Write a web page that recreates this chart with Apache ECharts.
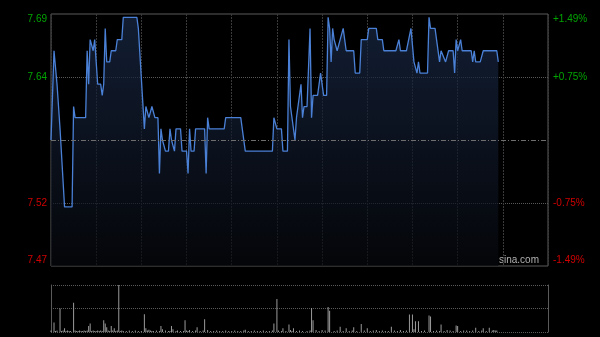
<!DOCTYPE html>
<html>
<head>
<meta charset="utf-8">
<script src="https://cdn.jsdelivr.net/npm/echarts@6/dist/echarts.min.js"></script>
<style>
html,body{margin:0;padding:0;background:#000;}
#chart{width:600px;height:337px;}
</style>
</head>
<body>
<div id="chart"></div>
<script>
// ---- data ----
const prevClose = 7.58;
// minute of the trading day (0..330, HK session) at each turn of the price line
const minutes = [0,2,4,5,6,7,9,14,15,16,23,24,25,26,27,28,29,30,31,33,34,35,36,37,39,40,43,44,47,48,57,58,59,62,63,64,65,66,67,68,69,71,72,73,74,75,76,78,79,80,82,83,86,87,90,91,92,93,95,96,102,103,104,105,115,116,126,127,128,129,147,148,149,150,153,154,157,158,159,160,162,163,164,166,167,168,170,172,173,174,177,179,180,181,183,184,185,186,187,188,189,190,191,192,193,194,195,196,201,202,205,206,210,211,216,217,220,221,229,231,232,236,239,240,241,242,243,244,245,250,251,252,255,256,257,258,259,260,262,263,264,267,268,269,270,272,273,279,280,281,282,285,287,296,297];
const prices = [7.58,7.66,7.63,7.61,7.59,7.59,7.52,7.52,7.61,7.60,7.60,7.66,7.63,7.67,7.67,7.66,7.67,7.67,7.63,7.63,7.62,7.63,7.68,7.65,7.65,7.66,7.66,7.67,7.67,7.69,7.69,7.68,7.68,7.59,7.61,7.61,7.60,7.60,7.61,7.61,7.60,7.60,7.55,7.59,7.58,7.58,7.57,7.57,7.59,7.58,7.57,7.59,7.59,7.57,7.57,7.55,7.59,7.57,7.57,7.59,7.59,7.55,7.60,7.59,7.59,7.60,7.60,7.59,7.59,7.57,7.57,7.60,7.60,7.59,7.59,7.57,7.57,7.67,7.61,7.61,7.58,7.60,7.60,7.63,7.60,7.61,7.61,7.68,7.60,7.62,7.62,7.64,7.63,7.62,7.62,7.69,7.68,7.65,7.68,7.67,7.67,7.66,7.66,7.67,7.67,7.68,7.67,7.66,7.66,7.64,7.64,7.67,7.67,7.68,7.68,7.67,7.67,7.66,7.66,7.67,7.66,7.66,7.68,7.68,7.65,7.65,7.64,7.65,7.64,7.64,7.69,7.68,7.68,7.67,7.67,7.65,7.66,7.66,7.65,7.65,7.66,7.66,7.64,7.67,7.66,7.67,7.66,7.66,7.65,7.66,7.65,7.65,7.66,7.66,7.65];
// volume, as percent of the day's largest bar
const volMinutes = [0,2,3,4,6,7,8,9,10,11,12,13,15,16,17,18,19,20,21,22,23,24,25,26,27,28,29,30,31,32,33,34,35,36,37,38,39,40,41,42,43,44,45,46,47,48,50,52,54,56,58,60,62,63,64,65,66,67,68,70,72,73,74,76,78,79,80,81,83,84,86,88,89,90,91,92,94,96,97,99,101,102,104,106,108,110,112,114,116,118,120,122,124,126,128,129,131,133,135,137,139,141,143,145,147,148,150,151,153,154,156,158,159,160,161,163,165,167,170,172,173,174,176,178,180,182,184,185,188,190,192,194,196,198,200,201,203,206,208,210,212,214,216,218,220,222,224,226,228,230,232,234,236,238,240,241,242,244,246,248,251,252,254,256,258,259,261,263,265,267,269,270,272,274,276,278,280,282,284,286,287,289,291,293,294,295,296];
const volValues  = [3,20,2,3,50,2,3,8,2,3,2,2,62,3,2,2,3,2,2,3,2,3,13,18,2,3,2,2,3,2,3,2,25,18,10,3,2,13,3,8,2,3,100,2,3,2,2,3,2,3,2,2,38,8,3,5,3,2,2,3,2,13,6,3,2,2,13,6,2,3,2,2,25,3,2,4,2,3,10,2,3,27,4,2,2,3,2,2,3,2,2,3,2,2,3,5,2,2,3,2,2,3,2,2,3,18,70,3,2,8,2,16,4,2,8,2,3,2,2,3,51,25,4,2,4,3,53,45,2,3,11,2,8,2,3,10,2,17,3,8,2,3,4,2,3,2,2,11,3,2,4,2,3,37,37,6,23,23,2,3,35,33,2,3,2,16,2,4,3,2,14,13,2,3,3,2,3,9,2,3,8,2,9,3,4,3,3];
// axis tick labels (bottom to top)
const priceTickLabels = ['7.47','7.52','','7.64','7.69'];
const pctTickLabels = ['-1.49%','-0.75%','','+0.75%','+1.49%'];

const PCT = 1.49, STEP = 0.745;
const GREEN = '#00a400', RED = '#d00000';
const lineData = minutes.map((m, i) => [m, (prices[i] / prevClose - 1) * 100]);
const volData = volMinutes.map((m, i) => [m, volValues[i]]);
const tickIndex = v => Math.round((v + PCT) / STEP);
const richLabels = {
  gt: {color: GREEN, padding: [10,0,0,0], fontSize: 10, fontFamily: 'Liberation Sans, Arial'},
  g:  {color: GREEN, fontSize: 10, fontFamily: 'Liberation Sans, Arial'},
  r:  {color: RED, fontSize: 10, fontFamily: 'Liberation Sans, Arial'},
  rb: {color: RED, padding: [0,0,12,0], fontSize: 10, fontFamily: 'Liberation Sans, Arial'}
};
const styleFor = i => ['rb','r','g','g','gt'][i];
const fmt = labels => v => {
  const i = tickIndex(v);
  const t = labels[i];
  return t ? '{' + styleFor(i) + '|' + t + '}' : '';
};

const chart = echarts.init(document.getElementById('chart'), null, {renderer: 'canvas'});
chart.setOption({
  backgroundColor: '#000',
  animation: false,
  grid: [
    {left: 51, right: 52, top: 14, height: 252, show: true, borderColor: '#5a5a5a', borderWidth: 1, backgroundColor: 'transparent'},
    {left: 51, right: 52, top: 285, height: 47, show: false}
  ],
  xAxis: [
    {type: 'value', gridIndex: 0, min: 0, max: 330, interval: 30,
     axisLine: {show: false}, axisTick: {show: false}, axisLabel: {show: false},
     splitLine: {show: true, lineStyle: {color: '#3a3a3a', type: [2,1], width: 1}}},
    {type: 'value', gridIndex: 1, min: 0, max: 330, interval: 330,
     axisLine: {show: false}, axisTick: {show: false}, axisLabel: {show: false},
     splitLine: {show: false}}
  ],
  yAxis: [
    {type: 'value', gridIndex: 0, min: -PCT, max: PCT, interval: STEP, position: 'left',
     axisLine: {show: false}, axisTick: {show: false},
     axisLabel: {show: true, margin: 4, formatter: fmt(priceTickLabels), rich: richLabels, showMinLabel: true, showMaxLabel: true},
     splitLine: {show: true, lineStyle: {color: ['transparent','#585858','transparent','#585858','transparent'], type: [1,1], width: 1}}},
    {type: 'value', gridIndex: 0, min: -PCT, max: PCT, interval: STEP, position: 'right',
     axisLine: {show: false}, axisTick: {show: false},
     axisLabel: {show: true, margin: 5, formatter: fmt(pctTickLabels), rich: richLabels, showMinLabel: true, showMaxLabel: true},
     splitLine: {show: false}},
    {type: 'value', gridIndex: 1, min: 0, max: 100, interval: 50, position: 'left',
     axisLine: {show: true, lineStyle: {color: '#5a5a5a', width: 1}}, axisTick: {show: false}, axisLabel: {show: false},
     splitLine: {show: true, lineStyle: {color: '#5a5a5a', type: [1,1], width: 1}}},
    {type: 'value', gridIndex: 1, min: 0, max: 100, interval: 50, position: 'right',
     axisLine: {show: true, lineStyle: {color: '#5a5a5a', width: 1}}, axisTick: {show: false}, axisLabel: {show: false},
     splitLine: {show: false}}
  ],
  series: [
    {type: 'line', xAxisIndex: 0, yAxisIndex: 0, data: lineData, symbol: 'none',
     lineStyle: {color: '#4a80d6', width: 1.3},
     areaStyle: {origin: 'start', color: new echarts.graphic.LinearGradient(0, 0, 0, 1, [
       {offset: 0, color: '#1a2a48'}, {offset: 1, color: '#06080d'}])},
     markLine: {silent: true, symbol: 'none', label: {show: false},
       lineStyle: {color: '#6e6e6e', type: [5,2,1,2], width: 1},
       data: [{yAxis: 0}]}
    },
    {type: 'bar', xAxisIndex: 1, yAxisIndex: 2, data: volData, barWidth: 1,
     itemStyle: {color: '#9a9a9a'}}
  ],
  graphic: [
    {type: 'text', left: 499, top: 255,
     style: {text: 'sina.com', fill: '#b0b0b0', font: '10px "Liberation Sans", Arial'}}
  ]
});
</script>
</body>
</html>
